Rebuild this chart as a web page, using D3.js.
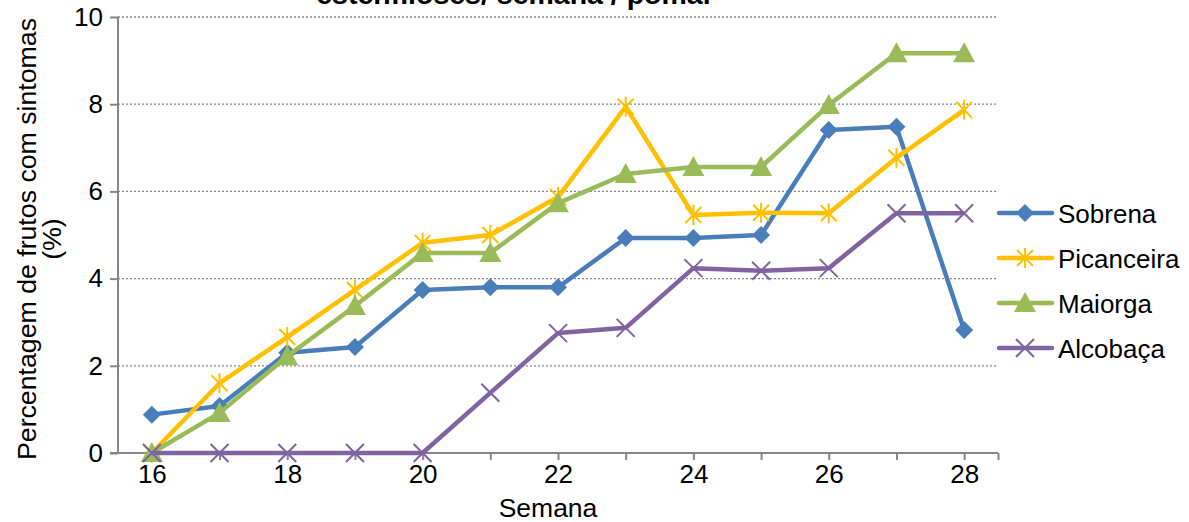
<!DOCTYPE html>
<html><head><meta charset="utf-8">
<script src="https://cdn.jsdelivr.net/npm/d3@7"></script>
<style>body{margin:0;background:#fff}svg{display:block;font-family:"Liberation Sans",Arial,sans-serif}</style>
</head><body><svg id="c" width="1189" height="522"></svg>
<script>
const weeks = [16,17,18,19,20,21,22,23,24,25,26,27,28];
const sobrena    = [0.88,1.08,2.30,2.43,3.74,3.80,3.80,4.93,4.93,5.00,7.41,7.48,2.82];
const picanceira = [0.00,1.60,2.66,3.74,4.82,5.00,5.87,7.94,5.46,5.51,5.50,6.77,7.87];
const maiorga    = [0.00,0.92,2.22,3.37,4.59,4.59,5.73,6.40,6.56,6.56,7.98,9.17,9.17];
const alcobaca   = [0.00,0.00,0.00,0.00,0.00,1.38,2.75,2.87,4.24,4.18,4.24,5.50,5.50];
const seriesNames = ["Sobrena","Picanceira","Maiorga","Alcobaça"];
const xTickLabels = [16,18,20,22,24,26,28];
const yTickLabels = [0,2,4,6,8,10];
const titleText = "estenfiloses/ semana / pomar";

const colors = ["#4A7EBB","#FFC000","#9BBB59","#8064A2"];
const markers = ["diamond","asterisk","triangle","cross"];
const allSeries = [sobrena,picanceira,maiorga,alcobaca];

const svg = d3.select("#c");
const x = d3.scaleLinear().domain([15.5,28.5]).range([118,998]);
const y = d3.scaleLinear().domain([0,10]).range([453,17]);
const axisCol = "#868686";
const fs = 26;

// gridlines
svg.append("g").selectAll("line").data(yTickLabels.filter(v=>v>0)).join("line")
  .attr("x1",x(15.5)).attr("x2",x(28.5)).attr("y1",d=>y(d)).attr("y2",d=>y(d))
  .attr("stroke",axisCol).attr("stroke-width",1.3).attr("stroke-dasharray","2,2");

// y axis
const yAxis = d3.axisLeft(y).tickValues(yTickLabels).tickSize(8).tickPadding(7).tickFormat(d3.format("d"));
const gy = svg.append("g").attr("transform",`translate(${x(15.5)},0)`).call(yAxis);
gy.select(".domain").attr("stroke",axisCol).attr("stroke-width",2).attr("d",`M0,${y(10)}V${y(0)}`);
gy.selectAll(".tick line").attr("stroke",axisCol).attr("stroke-width",2);
gy.selectAll(".tick text").attr("font-size",fs).attr("fill","#000").attr("font-family","Liberation Sans, Arial, sans-serif");

// x axis
const xAxis = d3.axisBottom(x).tickValues(weeks.concat([28.5])).tickSize(7).tickPadding(5)
  .tickFormat(d=>xTickLabels.includes(d)?String(d):"");
const gx = svg.append("g").attr("transform",`translate(0,${y(0)})`).call(xAxis);
gx.select(".domain").attr("stroke",axisCol).attr("stroke-width",2).attr("d",`M${x(15.5)-8},0H${x(28.5)}`);
gx.selectAll(".tick line").attr("stroke",axisCol).attr("stroke-width",2);
gx.selectAll(".tick text").attr("font-size",fs).attr("fill","#000").attr("font-family","Liberation Sans, Arial, sans-serif");

// axis titles
svg.append("text").attr("x",548).attr("y",517).attr("text-anchor","middle").attr("font-size",26.5).text("Semana");
const yl = svg.append("text").attr("transform",`translate(36,239) rotate(-90)`).attr("text-anchor","middle").attr("font-size",26.7);
yl.append("tspan").attr("x",0).attr("dy",0).text("Percentagem de frutos com sintomas");
yl.append("tspan").attr("x",0).attr("dy",25).text("(%)");

// title (partially cut at top, as in the reference)
svg.append("text").attr("x",515).attr("y",4).attr("text-anchor","middle").attr("font-size",28.5).attr("font-weight","bold").text(titleText);

function drawMarker(g, type, color){
  if(type==="diamond"){
    g.append("path").attr("d","M0,-9L9,0L0,9L-9,0Z").attr("fill",color);
  } else if(type==="triangle"){
    g.append("path").attr("d","M0,-11L11,9L-11,9Z").attr("fill",color);
  } else if(type==="asterisk"){
    g.append("path").attr("d","M0,-10V10M-8,-8L8,8M-8,8L8,-8").attr("stroke",color).attr("stroke-width",2).attr("fill","none");
  } else {
    g.append("path").attr("d","M-9,-9L9,9M-9,9L9,-9").attr("stroke",color).attr("stroke-width",2).attr("fill","none");
  }
}

const line = d3.line().x((d,i)=>x(weeks[i])).y(d=>y(d));
allSeries.forEach((vals,si)=>{
  const g = svg.append("g");
  g.append("path").datum(vals).attr("d",line).attr("fill","none").attr("stroke",colors[si])
    .attr("stroke-width",4.5).attr("stroke-linejoin","round");
  vals.forEach((v,i)=>{
    const mg = g.append("g").attr("transform",`translate(${x(weeks[i])},${y(v)})`);
    drawMarker(mg, markers[si], colors[si]);
  });
});

// legend
const legY = [213,258,303,348];
seriesNames.forEach((n,i)=>{
  const g = svg.append("g").attr("transform",`translate(0,${legY[i]})`);
  g.append("line").attr("x1",999).attr("x2",1052).attr("y1",0).attr("y2",0)
    .attr("stroke",colors[i]).attr("stroke-width",4.5).attr("stroke-linecap","round");
  const mg = g.append("g").attr("transform","translate(1025,0)");
  drawMarker(mg, markers[i], colors[i]);
  g.append("text").attr("x",1058).attr("y",9.5).attr("font-size",fs).text(n);
});
</script></body></html>
